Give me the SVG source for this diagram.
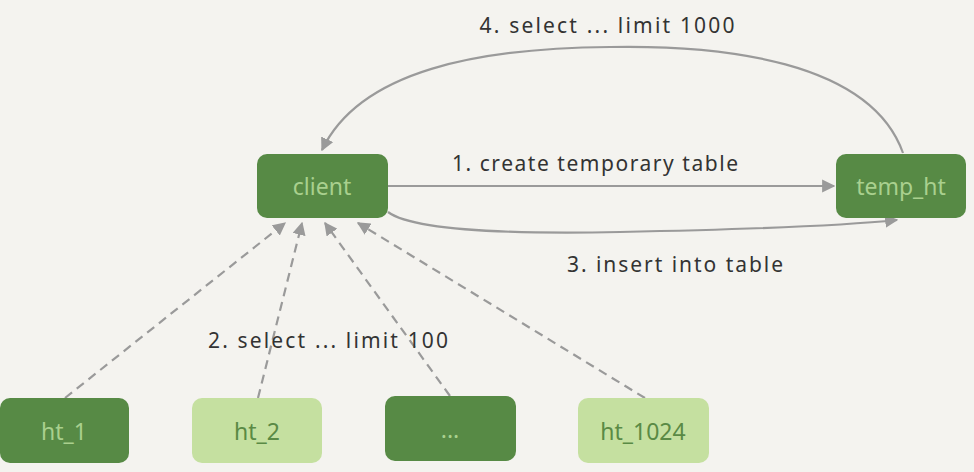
<svg xmlns="http://www.w3.org/2000/svg" width="974" height="472" viewBox="0 0 974 472">
<style>
.dark{fill:#578a45}
.light{fill:#c5e0a0}
.tdark{fill:#a9d08e;font-family:"Noto Sans",sans-serif;font-size:23px;text-anchor:middle;dominant-baseline:central}
.tlight{fill:#5a8a45;font-family:"Noto Sans",sans-serif;font-size:23px;text-anchor:middle;dominant-baseline:central}
.lbl{fill:#333;font-family:"Noto Sans",sans-serif;font-size:21px;text-anchor:middle;dominant-baseline:central}
.c{fill:none;stroke:#9a9a9a;stroke-width:2.2}
.d{fill:none;stroke:#9a9a9a;stroke-width:2.2;stroke-dasharray:9 6}
</style>
<defs>
<marker id="ah" viewBox="0 0 10 10" refX="9" refY="5" markerWidth="6" markerHeight="6" orient="auto" markerUnits="strokeWidth">
<path d="M0,0 L10,5 L0,10 z" fill="#9a9a9a"/>
</marker>
</defs>
<rect width="974" height="472" fill="#f4f3ef"/>
<g id="connectors">
<path class="c" d="M388,186 L834,186" marker-end="url(#ah)"/>
<path class="c" d="M388,212 Q420,236 620,232 Q820,228 897,220" marker-end="url(#ah)"/>
<path class="c" d="M903,153 C870,60 720,45 610,47 C480,48 360,70 322,150" marker-end="url(#ah)"/>
<path class="d" d="M65,398 L285,223" marker-end="url(#ah)"/>
<path class="d" d="M258,398 L302,223" marker-end="url(#ah)"/>
<path class="d" d="M450,396 L325,223" marker-end="url(#ah)"/>
<path class="d" d="M645,398 L358,223" marker-end="url(#ah)"/>
</g>
<g id="labels">
<text class="lbl" x="607" y="25" textLength="255" lengthAdjust="spacing">4. select ... limit 1000</text>
<text class="lbl" x="595" y="163" textLength="286" lengthAdjust="spacing">1. create temporary table</text>
<text class="lbl" x="675" y="264" textLength="216" lengthAdjust="spacing">3. insert into table</text>
<text class="lbl" x="328" y="340" textLength="240" lengthAdjust="spacing">2. select ... limit 100</text>
</g>
<g id="client"><rect class="dark" x="257" y="154" width="131" height="64" rx="10"/><text class="tdark" x="322" y="186">client</text></g>
<g id="temp_ht"><rect class="dark" x="836" y="154" width="130" height="64" rx="10"/><text class="tdark" x="901" y="186">temp_ht</text></g>
<g id="ht_1"><rect class="dark" x="0" y="398" width="129" height="65" rx="10"/><text class="tdark" x="64" y="431">ht_1</text></g>
<g id="ht_2"><rect class="light" x="192" y="398" width="130" height="65" rx="10"/><text class="tlight" x="257" y="431">ht_2</text></g>
<g id="dots"><rect class="dark" x="385" y="396" width="131" height="65" rx="10"/><text class="tdark" x="450" y="429">...</text></g>
<g id="ht_1024"><rect class="light" x="578" y="398" width="131" height="65" rx="10"/><text class="tlight" x="643" y="431">ht_1024</text></g>
</svg>
